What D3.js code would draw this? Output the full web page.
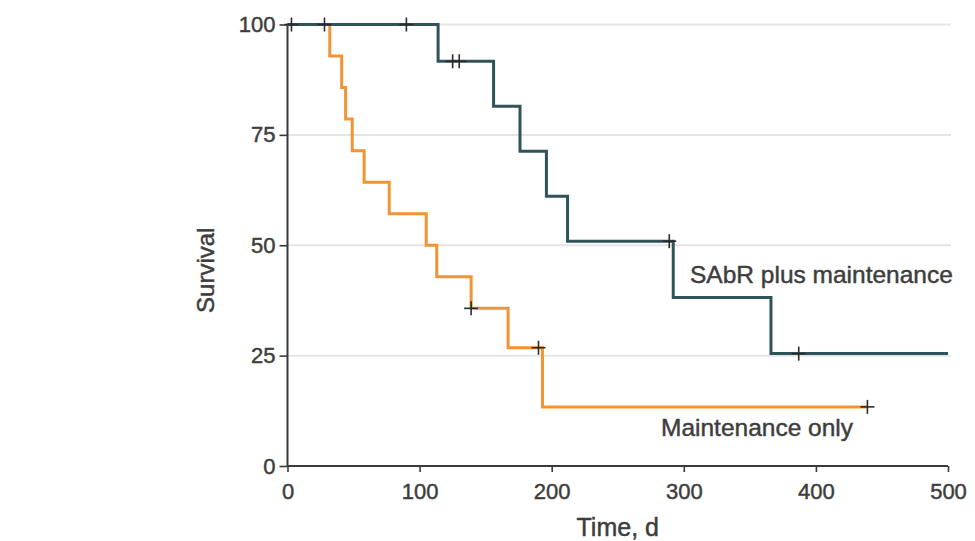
<!DOCTYPE html>
<html>
<head>
<meta charset="utf-8">
<script src="https://cdn.jsdelivr.net/npm/d3@7"></script>
<style>
  html, body { margin: 0; padding: 0; background: #fff; }
  svg { display: block; }
  text { font-family: "Liberation Sans", Arial, sans-serif; }
</style>
</head>
<body>
<svg id="chart" width="975" height="541"></svg>
<script>
// Kaplan-Meier survival, two arms
const maintenanceTimes = [0, 32, 41, 44, 49, 58, 77, 105, 113, 139, 167, 193];
const maintenanceSurv  = [100, 92.86, 85.71, 78.57, 71.43, 64.29, 57.14, 50.0, 42.86, 35.71, 26.79, 13.39];
const maintenanceEnd = 439;
const maintenanceCensored = [3, 28, 139, 190, 439];

const sabrTimes = [0, 114, 156, 176, 196, 212, 292, 366];
const sabrSurv  = [100, 91.67, 81.48, 71.30, 61.11, 50.93, 38.19, 25.46];
const sabrEnd = 500;
const sabrCensored = [90, 125, 130, 289, 387];

const xTicks = [0, 100, 200, 300, 400, 500];
const yTicks = [0, 25, 50, 75, 100];
const gridTicks = [25, 50, 75, 100];

const svg = d3.select("#chart");
const x = d3.scaleLinear().domain([0, 500]).range([287.5, 948]);
const y = d3.scaleLinear().domain([0, 100]).range([466, 24.5]);

const textColor = "#3d3d3d";
const orange = "#f39331";
const teal = "#30525a";

// slightly heavier text weight via a thin outline
function heavy(sel) {
  return sel.attr("fill", textColor).attr("stroke", textColor).attr("stroke-width", 0.45);
}

// horizontal gridlines
svg.append("g").selectAll("line").data(gridTicks).join("line")
  .attr("x1", x(0)).attr("x2", x(500) + 3)
  .attr("y1", d => y(d)).attr("y2", d => y(d))
  .attr("stroke", "#e5e5e5").attr("stroke-width", 2);

// axes
const xAxis = d3.axisBottom(x).tickValues(xTicks).tickSize(6).tickPadding(8);
const yAxis = d3.axisLeft(y).tickValues(yTicks).tickSize(8).tickPadding(4);

const gx = svg.append("g").attr("transform", `translate(0,${y(0)})`).call(xAxis);
const gy = svg.append("g").attr("transform", `translate(${x(0)},0)`).call(yAxis);
[gx, gy].forEach(g => {
  g.select(".domain").attr("stroke", "#3a3a3a").attr("stroke-width", 2);
  g.selectAll(".tick line").attr("stroke", "#3a3a3a").attr("stroke-width", 1.6);
  heavy(g.selectAll(".tick text"))
    .style("font-size", "22px")
    .style("font-family", "'Liberation Sans', Arial, sans-serif");
});
gy.select(".domain").attr("d", `M0,${y(0)}V${y(100)}`);
gx.select(".domain").attr("d", `M0,0H${x(500) - x(0)}`).attr("transform", `translate(${x(0)},0)`);
gx.selectAll(".tick text").attr("dy", "0.85em");

// axis titles
heavy(svg.append("text"))
  .attr("x", x(250)).attr("y", 536)
  .attr("text-anchor", "middle")
  .style("font-size", "25px")
  .text("Time, d");

heavy(svg.append("text"))
  .attr("transform", `translate(214,${y(50) + 25}) rotate(-90)`)
  .attr("text-anchor", "middle")
  .style("font-size", "24px")
  .text("Survival");

// survival curves
function stepPoints(times, surv, end) {
  const pts = times.map((t, i) => [t, surv[i]]);
  pts.push([end, surv[surv.length - 1]]);
  return pts;
}
function survivalAt(times, surv, t) {
  let s = surv[0];
  times.forEach((tt, i) => { if (tt <= t) s = surv[i]; });
  return s;
}

const line = d3.line()
  .x(d => x(d[0]))
  .y(d => y(d[1]))
  .curve(d3.curveStepAfter);

const arms = [
  { times: maintenanceTimes, surv: maintenanceSurv, end: maintenanceEnd, censored: maintenanceCensored, color: orange },
  { times: sabrTimes, surv: sabrSurv, end: sabrEnd, censored: sabrCensored, color: teal }
];

arms.forEach(a => {
  svg.append("path")
    .datum(stepPoints(a.times, a.surv, a.end))
    .attr("d", line)
    .attr("fill", "none")
    .attr("stroke", a.color)
    .attr("stroke-width", 3);
});

// censor marks
arms.forEach(a => {
  const g = svg.append("g").attr("stroke", "#2b2b2b").attr("stroke-width", 1.6);
  a.censored.forEach(t => {
    const cx = x(t), cy = y(survivalAt(a.times, a.surv, t));
    g.append("line").attr("x1", cx).attr("x2", cx).attr("y1", cy - 7).attr("y2", cy + 7);
    g.append("line").attr("x1", cx - 7).attr("x2", cx + 7).attr("y1", cy).attr("y2", cy);
  });
});

// series labels
heavy(svg.append("text"))
  .attr("x", 690).attr("y", 283)
  .style("font-size", "24.5px")
  .text("SAbR plus maintenance");

heavy(svg.append("text"))
  .attr("x", 661).attr("y", 436)
  .style("font-size", "24.5px")
  .text("Maintenance only");
</script>
</body>
</html>
